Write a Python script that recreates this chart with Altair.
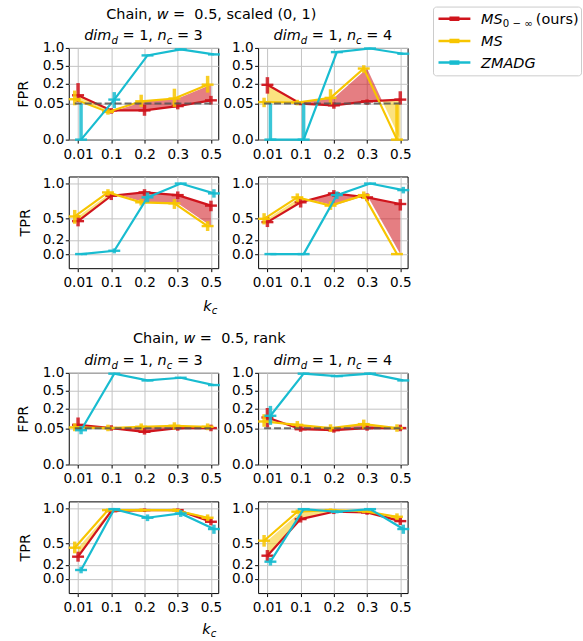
import altair as alt
import pandas as pd

# ---------------- data ----------------
KC = ["0.01", "0.1", "0.2", "0.3", "0.5"]
ALPHA = 0.05

# scaled (0, 1) -- FPR, n_c = 3
SC_F3_OURS = [0.096, 0.025, 0.025, 0.039, 0.065]
SC_F3_OURS_LO = [0.056, 0.017, 0.013, 0.028, 0.045]
SC_F3_OURS_HI = [0.21, 0.032, 0.044, 0.054, 0.092]
SC_F3_MS = [0.071, 0.021, 0.060, 0.075, 0.192]
SC_F3_MS_LO = [0.042, 0.015, 0.036, 0.036, 0.116]
SC_F3_MS_HI = [0.133, 0.030, 0.100, 0.150, 0.31]
SC_F3_ZM = [0.0, 0.069, 0.76, 0.95, 0.79]
SC_F3_ZM_LO = [0.0, 0.032, 0.74, 0.94, 0.77]
SC_F3_ZM_HI = [0.05, 0.12, 0.78, 0.96, 0.81]

# scaled (0, 1) -- FPR, n_c = 4
SC_F4_OURS = [0.19, 0.049, 0.042, 0.060, 0.069]
SC_F4_OURS_LO = [0.108, 0.042, 0.030, 0.044, 0.045]
SC_F4_OURS_HI = [0.29, 0.055, 0.055, 0.070, 0.127]
SC_F4_MS = [0.056, 0.054, 0.079, 0.44, 0.0]
SC_F4_MS_LO = [0.035, 0.042, 0.045, 0.36, 0.0]
SC_F4_MS_HI = [0.080, 0.068, 0.145, 0.51, 0.05]
SC_F4_ZM = [0.0, 0.0, 0.86, 0.98, 0.81]
SC_F4_ZM_LO = [0.0, 0.0, 0.84, 0.97, 0.79]
SC_F4_ZM_HI = [0.05, 0.05, 0.88, 0.99, 0.83]

# scaled (0, 1) -- TPR, n_c = 3
SC_T3_OURS = [0.467, 0.827, 0.874, 0.836, 0.687]
SC_T3_OURS_LO = [0.393, 0.766, 0.827, 0.78, 0.607]
SC_T3_OURS_HI = [0.547, 0.874, 0.92, 0.888, 0.757]
SC_T3_MS = [0.533, 0.874, 0.734, 0.72, 0.397]
SC_T3_MS_LO = [0.43, 0.827, 0.687, 0.64, 0.327]
SC_T3_MS_HI = [0.626, 0.92, 0.78, 0.78, 0.467]
SC_T3_ZM = [0.0, 0.047, 0.804, 1.0, 0.86]
SC_T3_ZM_LO = [-0.01, 0.01, 0.734, 0.99, 0.80]
SC_T3_ZM_HI = [0.01, 0.08, 0.874, 1.0, 0.92]

# scaled (0, 1) -- TPR, n_c = 4
SC_T4_OURS = [0.453, 0.734, 0.86, 0.804, 0.71]
SC_T4_OURS_LO = [0.383, 0.66, 0.81, 0.75, 0.617]
SC_T4_OURS_HI = [0.533, 0.80, 0.907, 0.86, 0.78]
SC_T4_MS = [0.5, 0.804, 0.687, 0.836, 0.0]
SC_T4_MS_LO = [0.42, 0.734, 0.626, 0.78, -0.01]
SC_T4_MS_HI = [0.58, 0.86, 0.748, 0.888, 0.01]
SC_T4_ZM = [0.0, 0.0, 0.836, 1.0, 0.907]
SC_T4_ZM_LO = [-0.01, -0.01, 0.78, 0.99, 0.86]
SC_T4_ZM_HI = [0.01, 0.01, 0.888, 1.0, 0.953]

# rank -- FPR, n_c = 3
RK_F3_OURS = [0.067, 0.051, 0.036, 0.051, 0.051]
RK_F3_OURS_LO = [0.040, 0.040, 0.027, 0.040, 0.038]
RK_F3_OURS_HI = [0.116, 0.065, 0.051, 0.065, 0.068]
RK_F3_MS = [0.054, 0.051, 0.057, 0.062, 0.057]
RK_F3_MS_LO = [0.038, 0.038, 0.042, 0.044, 0.042]
RK_F3_MS_HI = [0.075, 0.068, 0.075, 0.082, 0.075]
RK_F3_ZM = [0.042, 0.97, 0.756, 0.836, 0.63]
RK_F3_ZM_LO = [0.028, 0.96, 0.74, 0.82, 0.61]
RK_F3_ZM_HI = [0.06, 0.98, 0.77, 0.85, 0.65]

# rank -- FPR, n_c = 4
RK_F4_OURS = [0.116, 0.046, 0.042, 0.051, 0.051]
RK_F4_OURS_LO = [0.054, 0.036, 0.033, 0.040, 0.038]
RK_F4_OURS_HI = [0.21, 0.060, 0.054, 0.065, 0.068]
RK_F4_MS = [0.087, 0.067, 0.051, 0.071, 0.051]
RK_F4_MS_LO = [0.057, 0.048, 0.036, 0.048, 0.036]
RK_F4_MS_HI = [0.144, 0.090, 0.070, 0.10, 0.070]
RK_F4_ZM = [0.13, 0.97, 0.89, 0.97, 0.756]
RK_F4_ZM_LO = [0.067, 0.96, 0.87, 0.96, 0.74]
RK_F4_ZM_HI = [0.236, 0.98, 0.91, 0.98, 0.77]

# rank -- TPR, n_c = 3
RK_T3_OURS = [0.316, 0.962, 0.976, 0.976, 0.811]
RK_T3_OURS_LO = [0.245, 0.92, 0.95, 0.95, 0.76]
RK_T3_OURS_HI = [0.387, 1.0, 1.0, 1.0, 0.86]
RK_T3_MS = [0.443, 0.976, 0.976, 0.976, 0.868]
RK_T3_MS_LO = [0.363, 0.95, 0.95, 0.95, 0.82]
RK_T3_MS_HI = [0.53, 1.0, 1.0, 1.0, 0.915]
RK_T3_ZM = [0.127, 0.99, 0.868, 0.929, 0.708]
RK_T3_ZM_LO = [0.08, 0.97, 0.82, 0.88, 0.64]
RK_T3_ZM_HI = [0.175, 1.0, 0.915, 0.976, 0.77]

# rank -- TPR, n_c = 4
RK_T4_OURS = [0.33, 0.849, 0.953, 0.943, 0.82]
RK_T4_OURS_LO = [0.255, 0.80, 0.92, 0.91, 0.765]
RK_T4_OURS_HI = [0.41, 0.896, 0.98, 0.975, 0.87]
RK_T4_MS = [0.542, 0.953, 0.976, 0.962, 0.882]
RK_T4_MS_LO = [0.458, 0.92, 0.95, 0.935, 0.835]
RK_T4_MS_HI = [0.623, 0.985, 1.0, 0.99, 0.93]
RK_T4_ZM = [0.245, 0.99, 0.953, 0.99, 0.708]
RK_T4_ZM_LO = [0.19, 0.97, 0.93, 0.97, 0.64]
RK_T4_ZM_HI = [0.30, 1.0, 0.975, 1.0, 0.77]

# ---------------- style ----------------
METHODS = ["ours", "ms", "zm"]
COLOR = {"ours": "#d0141c", "ms": "#f7c500", "zm": "#18bcd0"}
XOFF = {"ours": 0.0, "ms": -0.1, "zm": 0.09}
PEXP = 0.31
W, H = 150, 92
XDOM = [-0.28, 4.22]
FONT = "DejaVu Sans"
FS = 14.5
SUB = 10.2

EM = {' ': 0.318, ',': 0.318, '.': 0.318, '=': 0.838, '(': 0.390, ')': 0.390,
      '−': 0.838, '∞': 0.833, 'C': 0.698, 'h': 0.634, 'a': 0.613, 'i': 0.278,
      'n': 0.634, 's': 0.521, 'c': 0.550, 'l': 0.278, 'e': 0.615, 'd': 0.635,
      'r': 0.411, 'k': 0.579, 'm': 0.974, 'w': 0.818, 'M': 0.863, 'S': 0.635,
      'Z': 0.685, 'A': 0.684, 'D': 0.770, 'G': 0.775, 'o': 0.612, 'u': 0.634}
for dg in "0123456789":
    EM[dg] = 0.636


def txt(s, px, py, size=FS, italic=False, align="left"):
    kw = dict(align=align, baseline="alphabetic", fontSize=size, font=FONT, color="black")
    if italic:
        kw["fontStyle"] = "italic"
    return alt.Chart(pd.DataFrame({"t": [s]})).mark_text(**kw).encode(
        x=alt.value(px), y=alt.value(py), text="t:N")


def rich(segs, x, y, center=False):
    ws = [sum(EM.get(ch, 0.6) for ch in t) * s for t, it, s, dy in segs]
    x0 = x - sum(ws) / 2 if center else x
    out = []
    for (t, it, s, dy), w in zip(segs, ws):
        lead = len(t) - len(t.lstrip(" "))
        out.append(txt(t.strip(), x0 + lead * 0.318 * s, y + dy, s, it))
        x0 += w
    return out


def fill_rows(ours, ms, metric):
    if metric == "FPR":
        tf = lambda v: max(v, 0) ** PEXP
        inv = lambda t: t ** (1 / PEXP)
    else:
        tf = lambda v: v
        inv = lambda t: t

    def col(d):  # d = t(ours) - t(ms)
        better = d < 0 if metric == "FPR" else d > 0
        return "red" if better else "yel"

    pieces = []
    for i in range(len(ours) - 1):
        d0 = tf(ours[i]) - tf(ms[i])
        d1 = tf(ours[i + 1]) - tf(ms[i + 1])
        a = (i, ours[i], ms[i])
        b = (i + 1, ours[i + 1], ms[i + 1])
        if d0 * d1 < 0:
            s = d0 / (d0 - d1)
            tc = tf(ours[i]) + s * (tf(ours[i + 1]) - tf(ours[i]))
            vc = inv(tc)
            c = (i + s, vc, vc)
            pieces.append((col(d0), [a, c]))
            pieces.append((col(d1), [c, b]))
        else:
            pieces.append((col(d0 if d0 != 0 else d1), [a, b]))
    rows = []
    seg = -1
    prev = None
    for c, pts in pieces:
        if c != prev:
            seg += 1
            start = pts
        else:
            start = pts[1:]
        for (x, r, m) in start:
            rows.append(dict(xp=x, lo=min(r, m), hi=max(r, m), seg=seg,
                             fc=COLOR["ours"] if c == "red" else COLOR["ms"],
                             op=0.55 if c == "red" else 0.5))
        prev = c
    return pd.DataFrame(rows)


XLAB = "[" + ",".join("'%s'" % k for k in KC) + "][datum.value]"


def panel(metric, data, left, extra=()):
    if metric == "FPR":
        ysc = alt.Scale(type="pow", exponent=PEXP, domain=[0, 1], nice=False, zero=False)
        yax = dict(values=[0, 0.05, 0.2, 0.5, 1.0],
                   labelExpr="datum.value == 0.05 ? '0.05' : format(datum.value, '.1f')")
    else:
        ysc = alt.Scale(domain=[-0.2, 1.1], nice=False, zero=False)
        yax = dict(values=[0, 0.2, 0.5, 1.0], format=".1f")
    if left:
        yax.update(title=metric, titleX=-45.5 if metric == "FPR" else -43.5, titleY=H / 2,
                   titleAngle=270, titleAlign="center", titleBaseline="middle")
    else:
        yax.update(title=None)
    yaxis = alt.Axis(**yax)
    xaxis = alt.Axis(values=[0, 1, 2, 3, 4], labelExpr=XLAB, title=None)

    def X(f):
        return alt.X(f + ":Q", scale=alt.Scale(domain=XDOM, nice=False, zero=False), axis=xaxis)

    def Y(f):
        return alt.Y(f + ":Q", scale=ysc, axis=yaxis)

    layers = []
    fdf = fill_rows(data["ours"][0], data["ms"][0], metric)
    layers.append(alt.Chart(fdf).mark_area(strokeWidth=0).encode(
        x=X("xp"), y=Y("lo"), y2=alt.Y2("hi:Q"),
        color=alt.Color("fc:N", scale=None), opacity=alt.Opacity("op:Q", scale=None),
        detail="seg:N"))
    for m in METHODS:
        v, lo, hi = data[m]
        df = pd.DataFrame({"xp": [i + XOFF[m] for i in range(len(KC))], "v": v, "lo": lo, "hi": hi})
        c = COLOR[m]
        layers.append(alt.Chart(df).mark_line(color=c, strokeWidth=2.2).encode(x=X("xp"), y=Y("v")))
        layers.append(alt.Chart(df).mark_rule(color=c, strokeWidth=3.5, opacity=0.85).encode(
            x=X("xp"), y=Y("lo"), y2=alt.Y2("hi:Q")))
        layers.append(alt.Chart(df).mark_point(
            shape="M-1,-0.2L1,-0.2L1,0.2L-1,0.2Z", filled=True, size=144, opacity=0.95,
            color=c, strokeWidth=0).encode(x=X("xp"), y=Y("v")))
    if metric == "FPR":
        ddf = pd.DataFrame({"xp": [-0.1, 4.1], "v": [ALPHA, ALPHA]})
        layers.append(alt.Chart(ddf).mark_line(color="#555555", strokeWidth=2, strokeDash=[7, 3],
                                               opacity=0.85).encode(x=X("xp"), y=Y("v")))
    layers.extend(extra)
    return alt.layer(*layers).properties(width=W, height=H)


def subtitle(n):
    segs = [("dim", True, FS, 0), ("d", True, SUB, 3.2), (" = 1, ", False, FS, 0),
            ("n", True, FS, 0), ("c", True, SUB, 3.2), (" = %d" % n, False, FS, 0)]
    return rich(segs, W / 2, -7.5, center=True)


def group_title(kind, cx, y):
    segs = [("Chain, ", False, FS, 0), ("w", True, FS, 0), (" = ", False, FS, 0),
            (" 0.5, " + kind, False, FS, 0)]
    return rich(segs, cx, y, center=True)


def kc_label(x, y):
    return rich([("k", True, FS, 0), ("c", True, SUB, 3.2)], x, y)


def pack(o, ol, oh, m, ml, mh, z, zl, zh):
    return {"ours": (o, ol, oh), "ms": (m, ml, mh), "zm": (z, zl, zh)}


# anchor fixing the page origin (invisible, white on white)
anchor = alt.Chart(pd.DataFrame({"a": [0]})).mark_rule(color="white", strokeWidth=1).encode(
    x=alt.value(-67.5), x2=alt.value(-67), y=alt.value(-45.5))

# legend (custom, drawn next to the top-right panel)
leg = [alt.Chart(pd.DataFrame({"a": [0]})).mark_rect(
    fill="white", stroke="#cccccc", strokeWidth=1, cornerRadius=3).encode(
    x=alt.value(176), x2=alt.value(324.5), y=alt.value(-41), y2=alt.value(28))]
LEG_Y = {"ours": -29.3, "ms": -7.0, "zm": 14.7}
for m in METHODS:
    ly = LEG_Y[m]
    leg.append(alt.Chart(pd.DataFrame({"a": [0]})).mark_rule(color=COLOR[m], strokeWidth=2.5).encode(
        x=alt.value(181), x2=alt.value(213), y=alt.value(ly)))
    leg.append(alt.Chart(pd.DataFrame({"a": [0]})).mark_rule(color=COLOR[m], strokeWidth=4.5).encode(
        x=alt.value(192), x2=alt.value(202), y=alt.value(ly)))
leg += [txt("MS", 223.7, LEG_Y["ours"] + 5.5, FS, True),
        txt("0 − ∞", 245.5, LEG_Y["ours"] + 8.5, SUB, False),
        txt("(ours)", 278.7, LEG_Y["ours"] + 5.5, FS, False),
        txt("MS", 223.7, LEG_Y["ms"] + 5.5, FS, True),
        txt("ZMADG", 223.7, LEG_Y["zm"] + 5.5, FS, True)]

p1 = panel("FPR", pack(SC_F3_OURS, SC_F3_OURS_LO, SC_F3_OURS_HI, SC_F3_MS, SC_F3_MS_LO, SC_F3_MS_HI,
                       SC_F3_ZM, SC_F3_ZM_LO, SC_F3_ZM_HI), True,
           [anchor] + subtitle(3) + group_title("scaled (0, 1)", 143, -29.3))
p2 = panel("FPR", pack(SC_F4_OURS, SC_F4_OURS_LO, SC_F4_OURS_HI, SC_F4_MS, SC_F4_MS_LO, SC_F4_MS_HI,
                       SC_F4_ZM, SC_F4_ZM_LO, SC_F4_ZM_HI), False, subtitle(4) + leg)
p3 = panel("TPR", pack(SC_T3_OURS, SC_T3_OURS_LO, SC_T3_OURS_HI, SC_T3_MS, SC_T3_MS_LO, SC_T3_MS_HI,
                       SC_T3_ZM, SC_T3_ZM_LO, SC_T3_ZM_HI), True, kc_label(135, H + 42.5))
p4 = panel("TPR", pack(SC_T4_OURS, SC_T4_OURS_LO, SC_T4_OURS_HI, SC_T4_MS, SC_T4_MS_LO, SC_T4_MS_HI,
                       SC_T4_ZM, SC_T4_ZM_LO, SC_T4_ZM_HI), False)
p5 = panel("FPR", pack(RK_F3_OURS, RK_F3_OURS_LO, RK_F3_OURS_HI, RK_F3_MS, RK_F3_MS_LO, RK_F3_MS_HI,
                       RK_F3_ZM, RK_F3_ZM_LO, RK_F3_ZM_HI), True,
           subtitle(3) + group_title("rank", 141, -30))
p6 = panel("FPR", pack(RK_F4_OURS, RK_F4_OURS_LO, RK_F4_OURS_HI, RK_F4_MS, RK_F4_MS_LO, RK_F4_MS_HI,
                       RK_F4_ZM, RK_F4_ZM_LO, RK_F4_ZM_HI), False, subtitle(4))
p7 = panel("TPR", pack(RK_T3_OURS, RK_T3_OURS_LO, RK_T3_OURS_HI, RK_T3_MS, RK_T3_MS_LO, RK_T3_MS_HI,
                       RK_T3_ZM, RK_T3_ZM_LO, RK_T3_ZM_HI), True, kc_label(134, H + 41))
p8 = panel("TPR", pack(RK_T4_OURS, RK_T4_OURS_LO, RK_T4_OURS_HI, RK_T4_MS, RK_T4_MS_LO, RK_T4_MS_HI,
                       RK_T4_ZM, RK_T4_ZM_LO, RK_T4_ZM_HI), False)


def spacer():
    return alt.Chart(pd.DataFrame({"a": [0]})).mark_point(opacity=0).encode(
        x=alt.value(0), y=alt.value(0)).properties(
        width=W, height=30.7, view=alt.ViewBackground(stroke="transparent"))


chart = alt.concat(p1, p2, p3, p4, spacer(), spacer(), p5, p6, p7, p8, columns=2,
                   spacing=alt.RowColnumber(row=37, column=40), bounds="flush", align="each"
                   ).properties(padding=0)

chart = chart.configure(font=FONT).configure_view(stroke="black", strokeWidth=1).configure_axis(
    labelFont=FONT, labelFontSize=13.6, labelColor="black", titleFont=FONT, titleFontSize=FS,
    titleFontWeight="normal", titleColor="black", tickColor="black", tickSize=3.5, tickWidth=1,
    domain=False, grid=True, gridColor="#c4c4c4", gridWidth=1, labelOverlap=False,
    labelFlush=False).configure_axisX(labelPadding=4).configure_axisY(labelPadding=1.5)

chart.save("out.html", embed_options={"renderer": "svg", "actions": False})
